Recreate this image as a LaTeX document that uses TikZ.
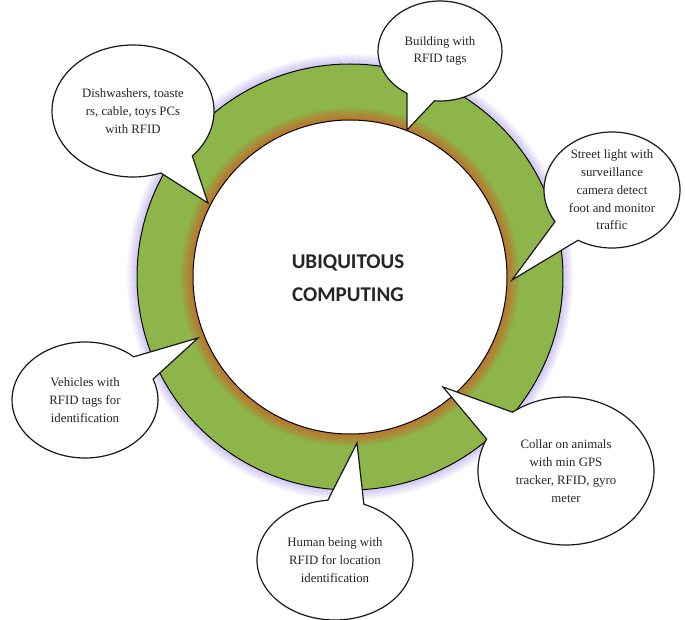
\documentclass[tikz,border=0pt]{standalone}
\usepackage{fontspec}
\setmainfont{Liberation Serif}
\newfontfamily\headfont{Carlito}
\usetikzlibrary{shapes.callouts}
\definecolor{ringgreen}{RGB}{141,181,74}
\definecolor{rimorange}{RGB}{196,104,40}
\definecolor{haze}{RGB}{150,130,225}
\begin{document}
\begin{tikzpicture}[x=1pt,y=-1pt,
  bubble/.style={ellipse callout, draw=black!90, line width=1.2pt, fill=white,
    callout pointer arc=27, align=center, inner sep=0pt, text=black!85,
    font=\fontsize{12.8}{17.8}\selectfont},
  hubtext/.style={font=\headfont\bfseries\fontsize{21}{33}\selectfont,
    text=black!85, align=center}]
\useasboundingbox (0,0) rectangle (686,620);
\coordinate (c) at (350,277);
% lavender halo around the ring
\foreach \i in {1,...,10}{
  \pgfmathsetmacro\op{0.4*(1-\i/11)}
  \draw[haze, draw opacity=\op, line width=1.2pt] (c) circle ({213+\i});
}
% green ring with an orange rim on its inner edge
\fill[ringgreen] (c) circle (213);
\foreach \i in {0,...,12}{
  \pgfmathsetmacro\op{0.8*(1-\i/13)}
  \draw[rimorange, draw opacity=\op, line width=1.2pt] (c) circle ({157+\i});
}
\draw[line width=1pt] (c) circle (213);
\draw[line width=1pt, fill=white] (c) circle (157);
\node[hubtext] (hub) at (348,278) {UBIQUITOUS\\COMPUTING};

% pointer tips on the inner circle
\coordinate (tipA) at (407,130);
\coordinate (tipB) at (208,203);
\coordinate (tipC) at (512,280);
\coordinate (tipD) at (198,338);
\coordinate (tipE) at (443,387);
\coordinate (tipF) at (357,443);

\node[bubble, minimum width=124pt, minimum height=100pt,
  callout absolute pointer={(tipA)}] (building) at (440,51)
  {Building with\\RFID tags};
\node[bubble, minimum width=162pt, minimum height=132pt,
  callout absolute pointer={(tipB)}] (appliances) at (133,111)
  {Dishwashers, toaste\\rs, cable, toys PCs\\with RFID};
\node[bubble, minimum width=136pt, minimum height=116pt,
  callout absolute pointer={(tipC)}] (streetlight) at (612,190)
  {Street light with\\surveillance\\camera detect\\foot and monitor\\traffic};
\node[bubble, minimum width=146pt, minimum height=116pt,
  callout absolute pointer={(tipD)}] (vehicles) at (85,400)
  {Vehicles with\\RFID tags for\\identification};
\node[bubble, minimum width=176pt, minimum height=148pt,
  callout absolute pointer={(tipE)}] (collar) at (566,471)
  {Collar on animals\\with min GPS\\tracker, RFID, gyro\\meter};
\node[bubble, minimum width=156pt, minimum height=120pt,
  callout absolute pointer={(tipF)}] (human) at (335,560)
  {Human being with\\RFID for location\\identification};
\end{tikzpicture}
\end{document}
